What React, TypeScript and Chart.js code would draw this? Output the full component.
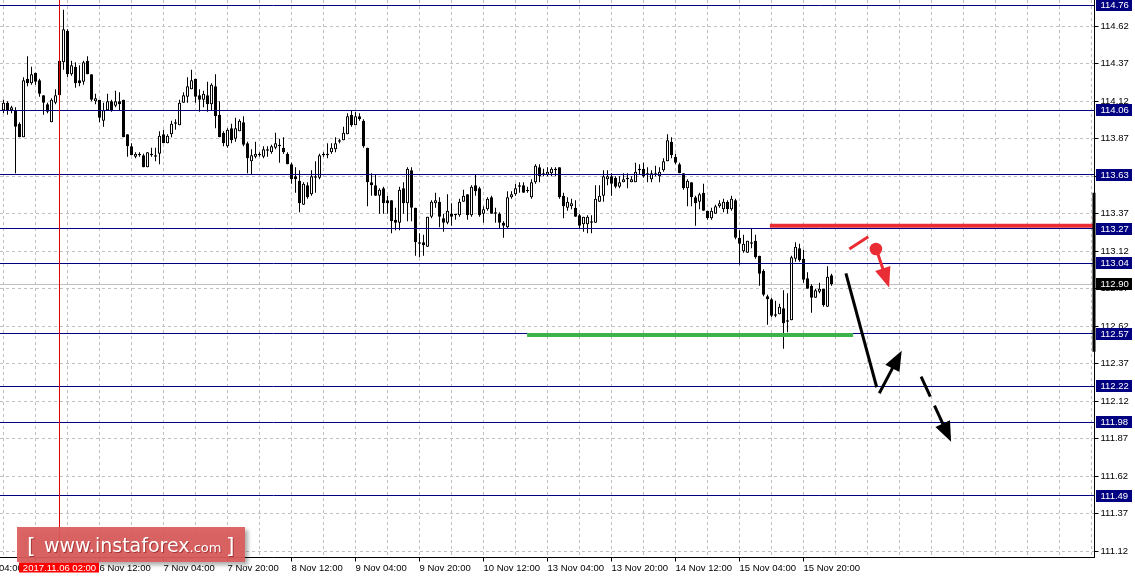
import { useEffect, useRef } from 'react';
import { Chart, registerables } from 'chart.js';

Chart.register(...registerables);

// ---- H1 candles (bar index 0 = 5 Nov? first visible bar; bar 14 = 2017.11.06 02:00) ----
const opens = [
  114.06, 114.11, 114.06, 114.06, 113.97, 113.88, 114.27, 114.24, 114.31, 114.26,
  114.16, 114.10, 113.98, 114.11, 114.16, 114.38, 114.59, 114.30, 114.35, 114.26,
  114.25, 114.39, 114.30, 114.12, 114.13, 113.99, 114.06, 114.12, 114.09, 114.12,
  114.13, 113.90, 113.82, 113.75, 113.77, 113.76, 113.68, 113.77, 113.75, 113.77,
  113.90, 113.84, 113.90, 113.97, 113.96, 114.11, 114.15, 114.20, 114.27, 114.16,
  114.13, 114.16, 114.10, 114.22, 114.03, 113.91, 113.82, 113.94, 113.87, 113.92,
  113.98, 113.84, 113.72, 113.75, 113.77, 113.75, 113.79, 113.78, 113.81, 113.83,
  113.81, 113.77, 113.70, 113.62, 113.59, 113.43, 113.56, 113.50, 113.61, 113.61,
  113.76, 113.77, 113.78, 113.80, 113.86, 113.86, 113.90, 114.03, 113.96, 114.02,
  113.99, 113.81, 113.58, 113.56, 113.49, 113.54, 113.46, 113.46, 113.33, 113.31,
  113.54, 113.44, 113.66, 113.41, 113.18, 113.18, 113.15, 113.35, 113.44, 113.45,
  113.34, 113.31, 113.37, 113.36, 113.36, 113.45, 113.50, 113.36, 113.56, 113.54,
  113.37, 113.40, 113.48, 113.38, 113.37, 113.31, 113.28, 113.48, 113.50, 113.55,
  113.56, 113.52, 113.48, 113.58, 113.68, 113.64, 113.63, 113.64, 113.67, 113.68,
  113.49, 113.41, 113.42, 113.41, 113.36, 113.30, 113.30, 113.32, 113.31, 113.45,
  113.49, 113.60, 113.62, 113.61, 113.55, 113.58, 113.61, 113.58, 113.58, 113.67,
  113.67, 113.63, 113.60, 113.64, 113.62, 113.66, 113.72, 113.85, 113.75, 113.70,
  113.64, 113.54, 113.58, 113.48, 113.45, 113.51, 113.39, 113.34, 113.37, 113.42,
  113.40, 113.45, 113.40, 113.46, 113.21, 113.12, 113.11, 113.17, 113.19, 113.09,
  112.99, 112.82, 112.80, 112.70, 112.70, 112.74, 112.66, 112.66, 113.07, 113.14,
  113.07, 112.94, 112.89, 112.81, 112.85, 112.87, 112.75, 112.96,
];
const highs = [
  114.13, 114.12, 114.09, 114.08, 113.98, 114.28, 114.42, 114.35, 114.31, 114.27,
  114.16, 114.11, 114.14, 114.20, 114.40, 114.73, 114.60, 114.39, 114.38, 114.36,
  114.39, 114.42, 114.30, 114.17, 114.13, 114.11, 114.17, 114.13, 114.19, 114.18,
  114.13, 113.90, 113.84, 113.78, 113.78, 113.77, 113.78, 113.81, 113.81, 113.92,
  113.93, 113.90, 113.99, 114.00, 114.13, 114.18, 114.28, 114.33, 114.27, 114.20,
  114.19, 114.25, 114.24, 114.30, 114.12, 113.92, 113.94, 113.97, 114.01, 114.00,
  114.02, 113.85, 113.80, 113.85, 113.78, 113.82, 113.82, 113.83, 113.91, 113.87,
  113.88, 113.78, 113.71, 113.68, 113.66, 113.58, 113.58, 113.66, 113.72, 113.77,
  113.78, 113.84, 113.84, 113.88, 113.87, 113.95, 114.04, 114.06, 114.05, 114.04,
  114.00, 113.81, 113.64, 113.63, 113.54, 113.55, 113.49, 113.46, 113.41, 113.55,
  113.58, 113.68, 113.68, 113.41, 113.24, 113.23, 113.35, 113.46, 113.51, 113.48,
  113.37, 113.50, 113.44, 113.37, 113.47, 113.53, 113.50, 113.56, 113.63, 113.55,
  113.42, 113.48, 113.49, 113.41, 113.38, 113.32, 113.52, 113.52, 113.57, 113.58,
  113.58, 113.55, 113.60, 113.70, 113.70, 113.67, 113.68, 113.68, 113.68, 113.68,
  113.51, 113.48, 113.47, 113.46, 113.37, 113.35, 113.36, 113.36, 113.56, 113.56,
  113.66, 113.66, 113.64, 113.62, 113.62, 113.64, 113.64, 113.62, 113.71, 113.70,
  113.71, 113.68, 113.66, 113.69, 113.68, 113.74, 113.90, 113.88, 113.77, 113.71,
  113.64, 113.60, 113.58, 113.49, 113.51, 113.57, 113.39, 113.41, 113.43, 113.46,
  113.47, 113.46, 113.49, 113.47, 113.26, 113.23, 113.19, 113.27, 113.23, 113.09,
  113.00, 112.83, 112.81, 112.79, 112.77, 112.86, 112.84, 113.09, 113.18, 113.17,
  113.13, 112.98, 112.90, 112.87, 112.91, 112.87, 113.02, 112.97,
];
const lows = [
  114.04, 114.03, 114.04, 113.64, 113.88, 113.88, 114.22, 114.23, 114.23, 114.15,
  114.03, 114.04, 113.98, 114.10, 114.16, 114.33, 114.28, 114.29, 114.21, 114.22,
  114.23, 114.30, 114.12, 114.10, 113.98, 113.95, 114.06, 114.05, 114.08, 114.06,
  113.88, 113.75, 113.76, 113.74, 113.75, 113.68, 113.68, 113.75, 113.72, 113.70,
  113.84, 113.84, 113.88, 113.93, 113.96, 114.11, 114.11, 114.20, 114.11, 114.05,
  114.08, 114.05, 114.06, 113.94, 113.88, 113.82, 113.81, 113.84, 113.85, 113.92,
  113.82, 113.64, 113.63, 113.74, 113.75, 113.74, 113.75, 113.77, 113.80, 113.71,
  113.77, 113.70, 113.57, 113.51, 113.38, 113.43, 113.47, 113.49, 113.51, 113.60,
  113.75, 113.74, 113.77, 113.78, 113.84, 113.86, 113.90, 113.95, 113.96, 113.99,
  113.81, 113.42, 113.49, 113.49, 113.37, 113.37, 113.37, 113.24, 113.26, 113.26,
  113.37, 113.32, 113.32, 113.09, 113.08, 113.09, 113.15, 113.34, 113.41, 113.28,
  113.25, 113.30, 113.29, 113.33, 113.35, 113.45, 113.33, 113.35, 113.49, 113.35,
  113.31, 113.39, 113.37, 113.31, 113.27, 113.21, 113.27, 113.47, 113.49, 113.51,
  113.51, 113.51, 113.47, 113.57, 113.58, 113.62, 113.62, 113.62, 113.62, 113.47,
  113.34, 113.39, 113.40, 113.35, 113.27, 113.25, 113.24, 113.24, 113.31, 113.45,
  113.45, 113.56, 113.49, 113.54, 113.54, 113.58, 113.54, 113.58, 113.58, 113.63,
  113.61, 113.58, 113.58, 113.62, 113.58, 113.65, 113.72, 113.74, 113.70, 113.64,
  113.53, 113.42, 113.42, 113.29, 113.40, 113.39, 113.33, 113.33, 113.37, 113.41,
  113.38, 113.37, 113.39, 113.20, 113.03, 113.11, 113.11, 113.14, 113.07, 112.89,
  112.82, 112.63, 112.68, 112.68, 112.70, 112.47, 112.58, 112.66, 113.05, 113.05,
  112.91, 112.87, 112.71, 112.81, 112.84, 112.75, 112.75, 112.89,
];
const closes = [
  114.11, 114.06, 114.08, 113.95, 113.88, 114.26, 114.24, 114.30, 114.25, 114.17,
  114.11, 114.05, 114.13, 114.16, 114.39, 114.60, 114.30, 114.36, 114.24, 114.24,
  114.38, 114.30, 114.13, 114.14, 114.01, 114.06, 114.12, 114.06, 114.12, 114.10,
  113.88, 113.82, 113.76, 113.77, 113.76, 113.68, 113.78, 113.76, 113.76, 113.89,
  113.84, 113.89, 113.97, 113.98, 114.11, 114.16, 114.22, 114.26, 114.15, 114.13,
  114.17, 114.10, 114.23, 114.02, 113.88, 113.84, 113.93, 113.86, 113.94, 113.99,
  113.83, 113.74, 113.76, 113.77, 113.76, 113.80, 113.80, 113.82, 113.84, 113.82,
  113.78, 113.70, 113.60, 113.60, 113.44, 113.57, 113.48, 113.62, 113.62, 113.76,
  113.77, 113.76, 113.81, 113.84, 113.85, 113.91, 114.02, 113.96, 114.02, 114.00,
  113.82, 113.58, 113.56, 113.49, 113.53, 113.44, 113.44, 113.32, 113.31, 113.53,
  113.44, 113.67, 113.41, 113.18, 113.17, 113.16, 113.35, 113.45, 113.46, 113.35,
  113.31, 113.39, 113.35, 113.37, 113.45, 113.49, 113.36, 113.55, 113.52, 113.36,
  113.40, 113.47, 113.37, 113.37, 113.31, 113.29, 113.48, 113.50, 113.54, 113.56,
  113.51, 113.53, 113.58, 113.69, 113.62, 113.63, 113.65, 113.67, 113.66, 113.48,
  113.42, 113.45, 113.44, 113.35, 113.29, 113.35, 113.35, 113.31, 113.47, 113.49,
  113.62, 113.62, 113.57, 113.55, 113.58, 113.60, 113.60, 113.60, 113.65, 113.66,
  113.62, 113.64, 113.64, 113.63, 113.65, 113.72, 113.86, 113.76, 113.71, 113.64,
  113.54, 113.59, 113.48, 113.44, 113.50, 113.39, 113.34, 113.39, 113.42, 113.44,
  113.45, 113.40, 113.47, 113.21, 113.17, 113.17, 113.19, 113.18, 113.08, 112.97,
  112.83, 112.80, 112.69, 112.69, 112.75, 112.64, 112.65, 113.08, 113.15, 113.06,
  112.93, 112.87, 112.81, 112.86, 112.87, 112.76, 112.95, 112.90,
];

// ---- axes ----
const priceTicks = [
  111.12, 111.37, 111.62, 111.87, 112.12, 112.37, 112.62, 112.87,
  113.12, 113.37, 113.62, 113.87, 114.12, 114.37, 114.62,
];
const priceMin = 111.078;
const priceMax = 114.795;
const barMin = -0.875;
const barMax = 272.75;
const gridBars = [
  0, 8, 16, 24, 32, 40, 48, 56, 64, 72, 80, 88, 96, 104, 112, 120, 128, 136,
  144, 152, 160, 168, 176, 184, 192, 200, 208, 216, 224, 232, 240, 248, 256, 264, 272,
];
const timeTickBars = [-8, 8, 24, 40, 56, 72, 88, 104, 120, 136, 152, 168, 184, 200];
const timeTickLabels = [
  '3 Nov 04:00', '3 Nov 20:00', '6 Nov 12:00', '7 Nov 04:00', '7 Nov 20:00',
  '8 Nov 12:00', '9 Nov 04:00', '9 Nov 20:00', '10 Nov 12:00', '13 Nov 04:00',
  '13 Nov 20:00', '14 Nov 12:00', '15 Nov 04:00', '15 Nov 20:00',
];
const crosshairBar = 14;
const crosshairLabel = '2017.11.06 02:00';

// ---- horizontal levels and drawings (bar index, price) ----
const levelPrices = [114.76, 114.06, 113.63, 113.27, 113.04, 112.57, 112.22, 111.98, 111.49];
const bidPrice = 112.9;
const supportLine = { fromBar: 130.9, toBar: 212.4, price: 112.562 };
const resistanceLine = { fromBar: 191.6, toBar: 272.7, price: 113.29 };
const redStroke = [[211.45, 113.135], [216.2, 113.217]];
const redDot = [218.1, 113.135];
const redArrow = [[218.6, 113.102], [221.4, 112.878]];
const blackLine = [[210.6, 112.973], [218.3, 112.213]];
const blackArrow = [[218.95, 112.173], [224.55, 112.457]];
const dashedArrow = [[229.4, 112.284], [236.9, 111.85]];

const FONT = 'Liberation Sans';
const NAVY = '#000080';
const RED = '#ea2d35';
const GREEN = '#3cb44b';

const labelFor = (v: number) => {
  const k = timeTickBars.indexOf(v);
  return k >= 0 ? timeTickLabels[k] : '';
};

function arrow(ctx: CanvasRenderingContext2D, x0: number, y0: number, x1: number, y1: number, color: string, dash: number[]) {
  const ang = Math.atan2(y1 - y0, x1 - x0);
  const len = 20;
  const half = 8;
  const bx = x1 - len * Math.cos(ang);
  const by = y1 - len * Math.sin(ang);
  ctx.save();
  ctx.strokeStyle = color;
  ctx.fillStyle = color;
  ctx.lineWidth = 3;
  ctx.setLineDash(dash);
  ctx.beginPath();
  ctx.moveTo(x0, y0);
  ctx.lineTo(bx + 2 * Math.cos(ang), by + 2 * Math.sin(ang));
  ctx.stroke();
  ctx.setLineDash([]);
  const nx = -Math.sin(ang);
  const ny = Math.cos(ang);
  ctx.beginPath();
  ctx.moveTo(x1, y1);
  ctx.lineTo(bx + nx * half, by + ny * half);
  ctx.lineTo(bx - nx * half, by - ny * half);
  ctx.closePath();
  ctx.fill();
  ctx.restore();
}

const overlay = {
  id: 'mtOverlay',
  beforeDatasetsDraw(chart: any) {
    const { ctx, chartArea: a, scales } = chart;
    const y = scales.y;
    const yb = Math.round(y.getPixelForValue(bidPrice) - 0.5) + 0.5;
    ctx.save();
    ctx.strokeStyle = '#c0c0c0';
    ctx.lineWidth = 1;
    ctx.beginPath();
    ctx.moveTo(a.left, yb);
    ctx.lineTo(a.right, yb);
    ctx.stroke();
    ctx.restore();
  },
  afterDatasetsDraw(chart: any) {
    const { ctx, chartArea: a, scales } = chart;
    const x = scales.x;
    const y = scales.y;
    const P = (b: number, p: number) => [x.getPixelForValue(b), y.getPixelForValue(p)];
    ctx.save();
    ctx.beginPath();
    ctx.rect(a.left, a.top, a.right - a.left, a.bottom - a.top);
    ctx.clip();

    // level lines
    ctx.strokeStyle = NAVY;
    ctx.lineWidth = 1;
    levelPrices.forEach((p) => {
      const py = Math.round(y.getPixelForValue(p) - 0.5) + 0.5;
      ctx.beginPath();
      ctx.moveTo(a.left, py);
      ctx.lineTo(a.right, py);
      ctx.stroke();
    });

    // support / resistance bars
    ctx.lineCap = 'butt';
    ctx.lineWidth = 4;
    ctx.strokeStyle = GREEN;
    let s = P(supportLine.fromBar, supportLine.price);
    let e = P(supportLine.toBar, supportLine.price);
    ctx.beginPath(); ctx.moveTo(s[0], s[1]); ctx.lineTo(e[0], e[1]); ctx.stroke();
    ctx.strokeStyle = RED;
    s = P(resistanceLine.fromBar, resistanceLine.price);
    e = P(resistanceLine.toBar, resistanceLine.price);
    ctx.beginPath(); ctx.moveTo(s[0], s[1]); ctx.lineTo(e[0], e[1]); ctx.stroke();

    // red stroke, dot and arrow
    ctx.lineWidth = 3;
    s = P(redStroke[0][0], redStroke[0][1]);
    e = P(redStroke[1][0], redStroke[1][1]);
    ctx.beginPath(); ctx.moveTo(s[0], s[1]); ctx.lineTo(e[0], e[1]); ctx.stroke();
    const d = P(redDot[0], redDot[1]);
    ctx.fillStyle = RED;
    ctx.beginPath(); ctx.arc(d[0], d[1], 6.3, 0, Math.PI * 2); ctx.fill();
    s = P(redArrow[0][0], redArrow[0][1]);
    e = P(redArrow[1][0], redArrow[1][1]);
    arrow(ctx, s[0], s[1], e[0], e[1], RED, []);

    // black forecast path
    ctx.strokeStyle = '#000';
    ctx.lineWidth = 3;
    s = P(blackLine[0][0], blackLine[0][1]);
    e = P(blackLine[1][0], blackLine[1][1]);
    ctx.beginPath(); ctx.moveTo(s[0], s[1]); ctx.lineTo(e[0], e[1]); ctx.stroke();
    s = P(blackArrow[0][0], blackArrow[0][1]);
    e = P(blackArrow[1][0], blackArrow[1][1]);
    arrow(ctx, s[0], s[1], e[0], e[1], '#000', []);
    s = P(dashedArrow[0][0], dashedArrow[0][1]);
    e = P(dashedArrow[1][0], dashedArrow[1][1]);
    arrow(ctx, s[0], s[1], e[0], e[1], '#000', [22, 10]);

    // crosshair
    const cx = Math.round(x.getPixelForValue(crosshairBar) - 0.5) + 0.5;
    ctx.strokeStyle = '#e00000';
    ctx.lineWidth = 1;
    ctx.beginPath(); ctx.moveTo(cx, a.top); ctx.lineTo(cx, a.bottom); ctx.stroke();
    ctx.restore();
  },
  afterDraw(chart: any) {
    const { ctx, chartArea: a, scales } = chart;
    const x = scales.x;
    const y = scales.y;
    ctx.save();
    ctx.font = `9.5px "${FONT}"`;
    ctx.textBaseline = 'middle';
    ctx.textAlign = 'left';

    // thick segment on the price axis
    ctx.fillStyle = '#000';
    const segTop = y.getPixelForValue(113.51);
    const segBot = y.getPixelForValue(112.45);
    ctx.fillRect(a.right - 2, segTop, 3, segBot - segTop);

    const box = (p: number, bg: string) => {
      const py = y.getPixelForValue(p);
      const top = Math.round(py) - 6;
      ctx.fillStyle = bg;
      ctx.fillRect(a.right + 1.5, top, 36, 12);
      ctx.fillStyle = '#fff';
      ctx.fillText(p.toFixed(2), a.right + 6, top + 6.5);
    };
    levelPrices.forEach((p) => box(p, NAVY));
    box(bidPrice, '#000');

    // watermark
    ctx.save();
    ctx.shadowColor = 'rgba(0,0,0,0.35)';
    ctx.shadowOffsetX = 3;
    ctx.shadowOffsetY = 3;
    ctx.shadowBlur = 4;
    ctx.fillStyle = 'rgba(220,92,92,0.93)';
    ctx.fillRect(17, 527, 228, 35);
    ctx.restore();
    ctx.save();
    ctx.fillStyle = '#ffffff';
    ctx.shadowColor = 'rgba(90,0,0,0.45)';
    ctx.shadowOffsetX = 1;
    ctx.shadowOffsetY = 1;
    ctx.textBaseline = 'alphabetic';
    ctx.font = '22px "DejaVu Sans"';
    ctx.fillText('[', 27, 553);
    ctx.fillText(']', 226, 553);
    ctx.font = '19px "DejaVu Sans"';
    ctx.fillText('www.instaforex', 44, 552);
    const w = ctx.measureText('www.instaforex').width;
    ctx.font = '13px "DejaVu Sans"';
    ctx.fillText('.com', 44 + w, 552);
    ctx.restore();

    // crosshair time label
    const cx = x.getPixelForValue(crosshairBar);
    ctx.fillStyle = '#ff0000';
    ctx.fillRect(cx - 40.5, 562.5, 80, 10);
    ctx.fillStyle = '#fff';
    ctx.textAlign = 'center';
    ctx.font = `9.5px "${FONT}"`;
    ctx.fillText(crosshairLabel, cx, 568);
    ctx.restore();
  },
};

export default function App() {
  const ref = useRef<HTMLCanvasElement>(null);
  useEffect(() => {
    document.body.style.margin = '0';
    const canvas = ref.current as HTMLCanvasElement;
    const chart = new Chart(canvas, {
      type: 'bar',
      data: {
        datasets: [
          {
            label: 'body',
            data: opens.map((o, i) => ({ x: i, y: [o, closes[i]] })) as any,
            backgroundColor: opens.map((o, i) => (closes[i] >= o ? '#ffffff' : '#000000')),
            borderColor: '#000000',
            borderWidth: 1,
            borderSkipped: false,
            barThickness: 3,
            maxBarThickness: 3,
            inflateAmount: 0,
            grouped: false,
            order: 0,
          } as any,
          {
            label: 'wick',
            data: lows.map((l, i) => ({ x: i, y: [l, highs[i]] })) as any,
            backgroundColor: '#000000',
            borderWidth: 0,
            barThickness: 1,
            maxBarThickness: 1,
            inflateAmount: 0,
            grouped: false,
            order: 1,
          } as any,
        ],
      },
      options: {
        animation: false,
        responsive: false,
        maintainAspectRatio: false,
        events: [],
        layout: { padding: 0 },
        plugins: { legend: { display: false }, tooltip: { enabled: false } },
        scales: {
          x: {
            type: 'linear',
            position: 'bottom',
            min: barMin,
            max: barMax,
            offset: false,
            afterBuildTicks: (s: any) => {
              s.ticks = gridBars.concat([-8]).map((v) => ({ value: v }));
            },
            afterFit: (s: any) => {
              s.height = 20.5;
              s.paddingLeft = 0;
              s.paddingRight = 0;
            },
            grid: {
              color: '#c0c0c0',
              lineWidth: 1,
              drawTicks: true,
              tickLength: 4,
              tickBorderDash: [],
              tickColor: (c: any) => (c.tick && labelFor(c.tick.value) ? '#000000' : 'rgba(0,0,0,0)'),
              offset: false,
            },
            border: { display: true, color: '#000000', width: 1, dash: [3, 3] },
            ticks: {
              autoSkip: false,
              maxRotation: 0,
              minRotation: 0,
              align: 'start',
              padding: 1,
              color: '#000000',
              font: { family: FONT, size: 9.5 },
              callback: (v: any) => labelFor(Number(v)),
            },
          } as any,
          y: {
            type: 'linear',
            position: 'right',
            min: priceMin,
            max: priceMax,
            afterBuildTicks: (s: any) => {
              s.ticks = priceTicks.map((v) => ({ value: v }));
            },
            afterFit: (s: any) => {
              s.width = 40.5;
              s.paddingTop = 0;
              s.paddingBottom = 0;
            },
            grid: {
              color: '#c0c0c0',
              lineWidth: 1,
              drawTicks: true,
              tickLength: 4,
              tickBorderDash: [],
              tickColor: '#000000',
            },
            border: { display: true, color: '#000000', width: 1, dash: [3, 3] },
            ticks: {
              padding: 2,
              color: '#000000',
              font: { family: FONT, size: 9.5 },
              callback: (v: any) => Number(v).toFixed(2),
            },
          } as any,
        },
      },
      plugins: [overlay as any],
    });
    return () => chart.destroy();
  }, []);
  return (
    <div style={{ width: 1135, height: 578, background: '#ffffff' }}>
      <canvas ref={ref} width={1135} height={578} style={{ display: 'block' }} />
    </div>
  );
}
